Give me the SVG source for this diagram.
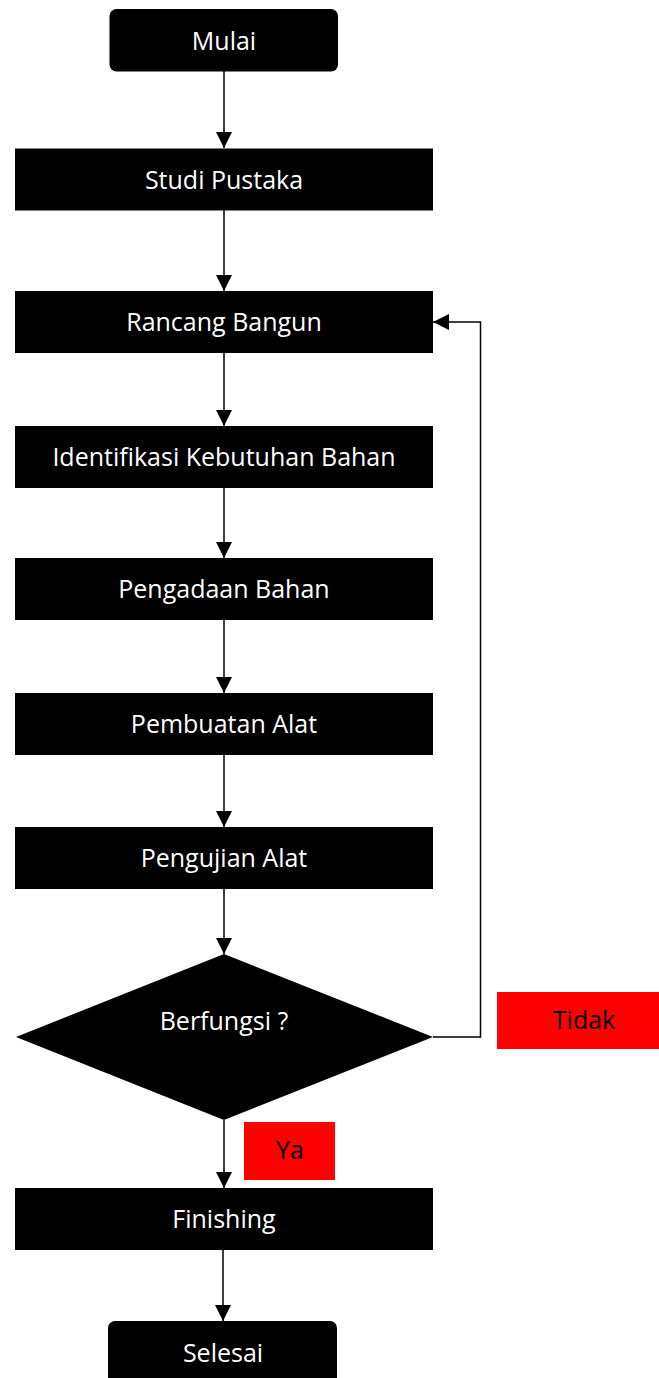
<svg xmlns="http://www.w3.org/2000/svg" width="659" height="1378" viewBox="0 0 659 1378">
<style>
.node{fill:#000;}
.t{font-family:"Open Sans","Liberation Sans",Arial,sans-serif;font-size:25px;fill:#fff;text-anchor:middle;}
.lbl{fill:#ff0000;}
.lt{font-family:"Open Sans","Liberation Sans",Arial,sans-serif;font-size:25px;fill:#000;text-anchor:middle;}
.c{stroke:#000;stroke-width:1.5;fill:none;marker-end:url(#ah);}
</style>
<defs>
<marker id="ah" markerUnits="userSpaceOnUse" markerWidth="16" markerHeight="16" viewBox="0 0 16 16" refX="16" refY="8" orient="auto">
<path d="M0,0 L16,8 L0,16 Z" fill="#000"/>
</marker>
</defs>
<rect width="659" height="1378" fill="#fff"/>
<g id="connectors">
<path class="c" d="M224,71 L224,148"/>
<path class="c" d="M224,210 L224,291"/>
<path class="c" d="M224,353 L224,426"/>
<path class="c" d="M224,488 L224,558"/>
<path class="c" d="M224,620 L224,693"/>
<path class="c" d="M224,755 L224,827"/>
<path class="c" d="M224,889 L224,954"/>
<path class="c" d="M224,1120 L224,1188"/>
<path class="c" d="M223,1250 L223,1321"/>
<path class="c" d="M433,1037 L480.5,1037 L480.5,322 L433,322"/>
</g>
<g id="mulai"><rect class="node" x="109.5" y="9" width="228.5" height="62.5" rx="7"/><text class="t" x="224" y="50">Mulai</text></g>
<g id="studi"><rect class="node" x="15" y="148.5" width="418" height="62"/><text class="t" x="224" y="188.5">Studi Pustaka</text></g>
<g id="rancang"><rect class="node" x="15" y="291" width="418" height="62"/><text class="t" x="224" y="331">Rancang Bangun</text></g>
<g id="identifikasi"><rect class="node" x="15" y="426" width="418" height="62"/><text class="t" x="224" y="466">Identifikasi Kebutuhan Bahan</text></g>
<g id="pengadaan"><rect class="node" x="15" y="558" width="418" height="62"/><text class="t" x="224" y="598">Pengadaan Bahan</text></g>
<g id="pembuatan"><rect class="node" x="15" y="693" width="418" height="62"/><text class="t" x="224" y="733">Pembuatan Alat</text></g>
<g id="pengujian"><rect class="node" x="15" y="827" width="418" height="62"/><text class="t" x="224" y="867">Pengujian Alat</text></g>
<g id="berfungsi"><path class="node" d="M224,954 L433,1037 L224,1120 L16,1037 Z"/><text class="t" x="224" y="1030">Berfungsi ?</text></g>
<g id="tidak"><rect class="lbl" x="497" y="992" width="162" height="57"/><text class="lt" x="584" y="1029">Tidak</text></g>
<g id="ya"><rect class="lbl" x="244" y="1122" width="91" height="58"/><text class="lt" x="290" y="1159">Ya</text></g>
<g id="finishing"><rect class="node" x="15" y="1188" width="418" height="62"/><text class="t" x="224" y="1228">Finishing</text></g>
<g id="selesai"><rect class="node" x="108" y="1321" width="229" height="64" rx="7"/><text class="t" x="223" y="1362">Selesai</text></g>
</svg>
